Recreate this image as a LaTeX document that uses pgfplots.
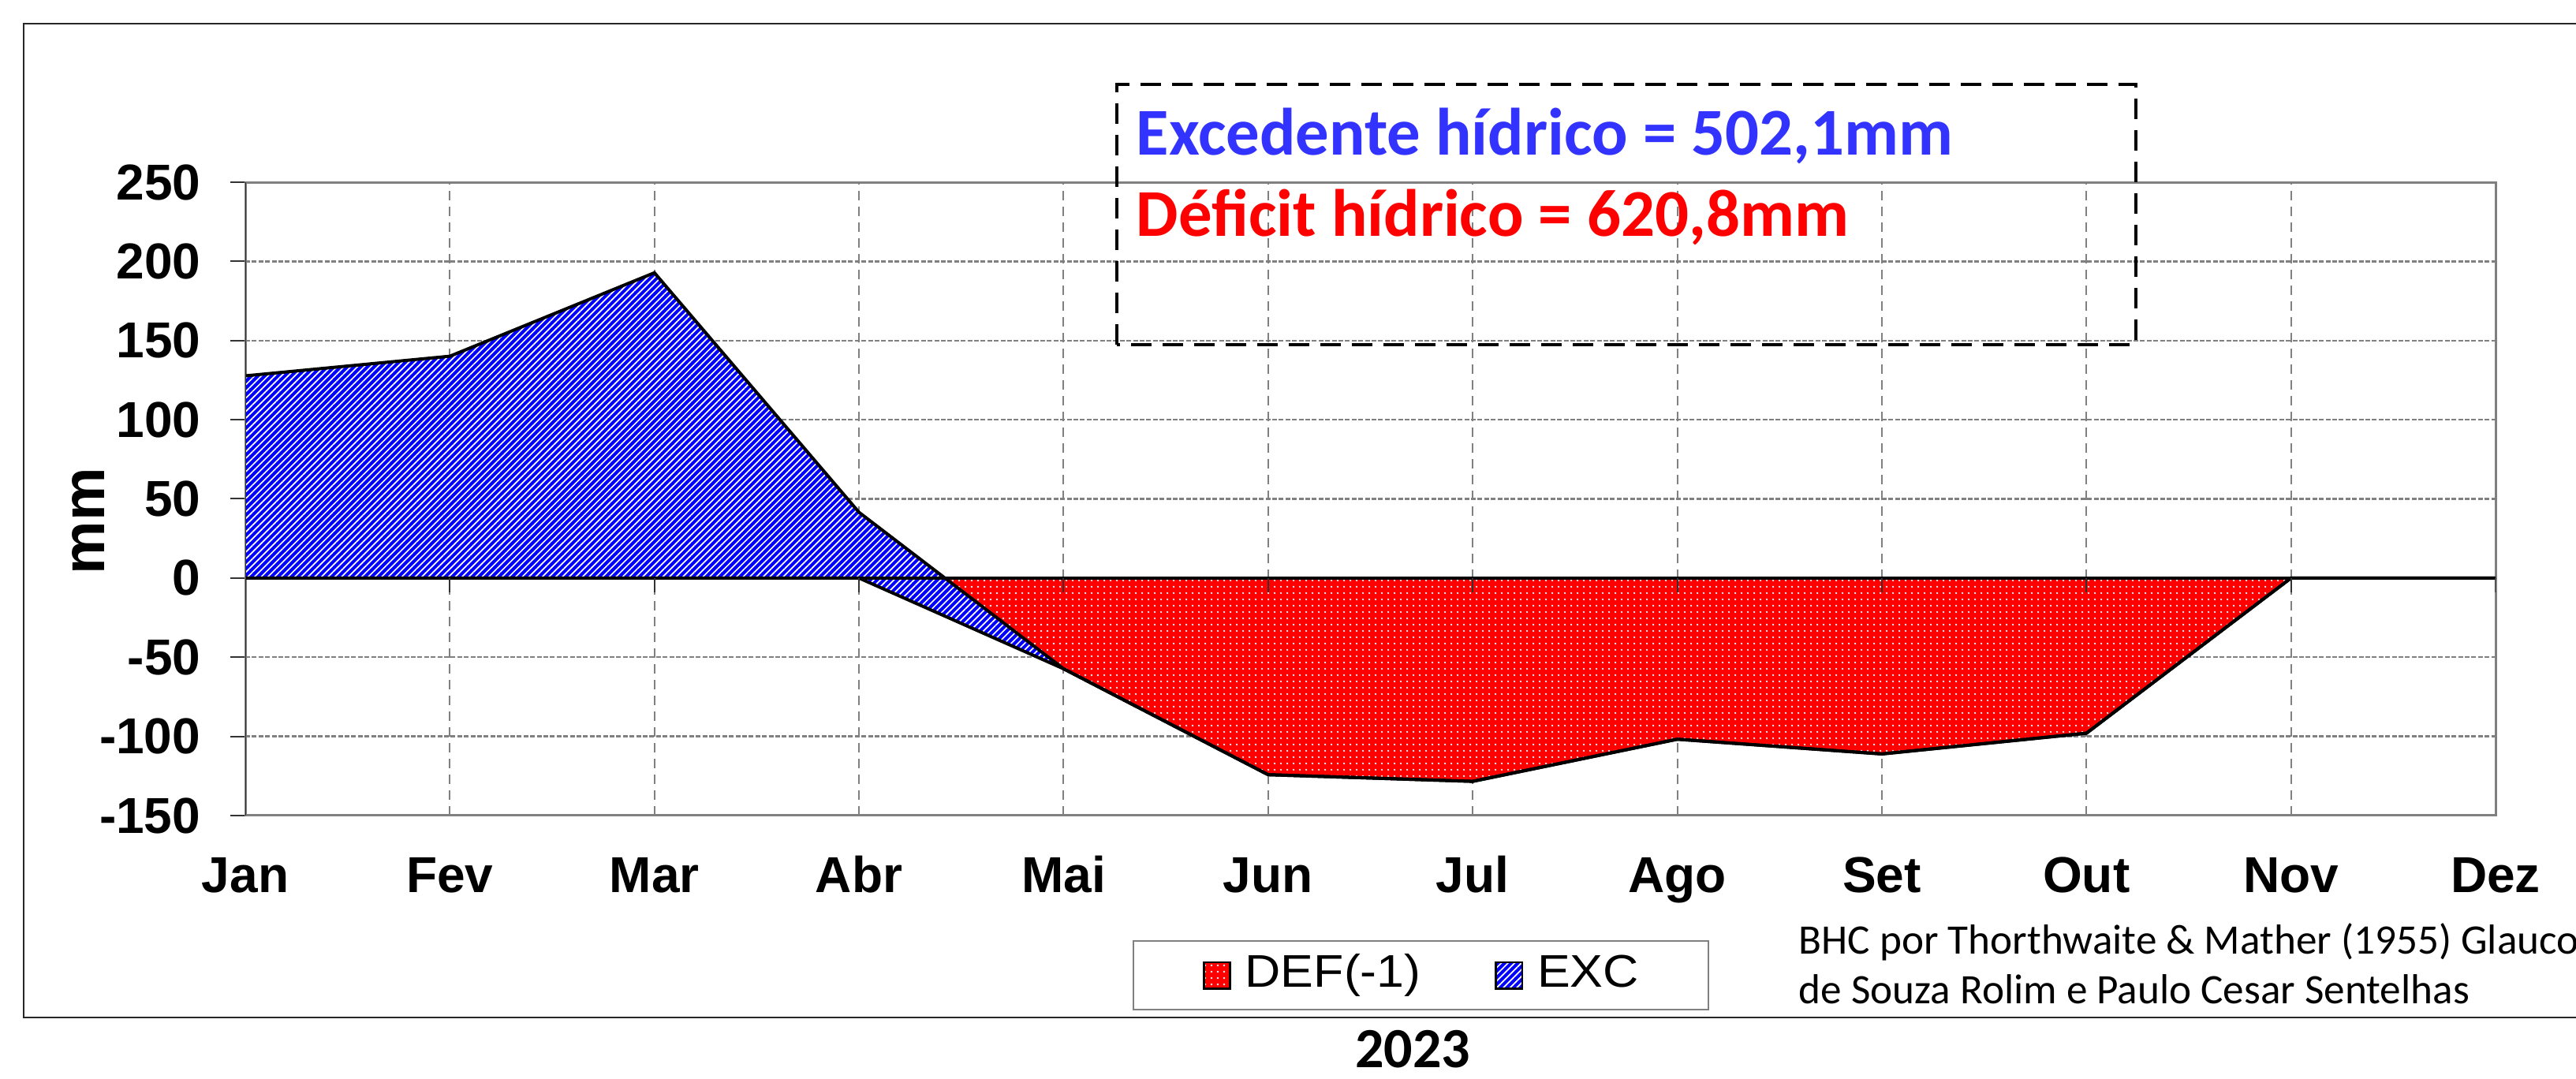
\documentclass[border=0pt]{standalone}
\usepackage{fontspec}
\setmainfont{Liberation Sans}
\newfontfamily\calibri{Carlito}
\usepackage{pgfplots}
\usepackage{pgfplotstable}
\pgfplotsset{compat=1.18}
\usetikzlibrary{patterns.meta}
\definecolor{excblue}{RGB}{0,0,255}
\definecolor{txtblue}{RGB}{51,51,255}
\definecolor{defred}{RGB}{255,0,0}
\definecolor{gridgray}{RGB}{128,128,128}

% monthly water balance: DEF(-1) and EXC (mm)
\pgfplotstableread{
x def exc
0 0 127.7
1 0 140.1
2 0 192.8
3 0 41.5
4 -57.3 0
5 -124.2 0
6 -128.4 0
7 -101.8 0
8 -111.1 0
9 -98.0 0
10 0 0
11 0 0
}\bhc
% EXC stacked on DEF: upper edge (def+exc) Jan..Mai, lower edge (def) back Abr..Jan
\pgfplotstableread{
x y
0 127.7
1 140.1
2 192.8
3 41.5
4 -57.3
3 0
2 0
1 0
0 0
}\excpoly

\begin{document}
\begin{tikzpicture}
\fill[white] (0,0) rectangle (816.5pt,342pt);
\draw[black!85, line width=0.5pt] (7.5pt,19.5pt) rectangle (830pt,334.5pt);

\begin{axis}[
  at={(77.75pt,83.5pt)}, anchor=south west,
  scale only axis, width=713.25pt, height=200.75pt,
  xmin=0, xmax=11, ymin=-150, ymax=250,
  xtick={0,...,11},
  xticklabels={Jan,Fev,Mar,Abr,Mai,Jun,Jul,Ago,Set,Out,Nov,Dez},
  ytick={-150,-100,...,250},
  yticklabels={-150,-100,-50,0,50,100,150,200,250},
  grid=major,
  x grid style={gridgray, line width=0.5pt, dash pattern=on 3pt off 2pt},
  y grid style={gridgray, line width=0.6pt, dash pattern=on 1.5pt off 0.6pt},
  axis line style={draw=gridgray, line width=0.75pt},
  tick align=outside,
  major tick length=4.75pt,
  xtick style={draw=none},
  ytick pos=left,
  ytick style={black!80, line width=0.5pt},
  xticklabel style={font=\bfseries\fontsize{16}{16}\selectfont, inner sep=0pt, text height=11.5pt, anchor=north, yshift=-8pt},
  yticklabel style={font=\bfseries\fontsize{16}{16}\selectfont, inner sep=0pt, anchor=east, xshift=-9.25pt},
  legend style={at={(0.3943,-0.1968)}, anchor=north west, draw=gridgray, line width=0.6pt,
    inner xsep=22pt, inner ysep=3.6pt, font=\fontsize{14.5}{14.5}\selectfont,
    nodes={inner sep=0pt, text height=11pt, text depth=3.5pt},
    /tikz/every odd column/.append style={column sep=4.5pt},
    /tikz/every even column/.append style={column sep=23.5pt}},
  legend columns=2,
]
\addplot[draw=none, fill=defred, postaction={pattern={Dots[distance=2pt, radius=0.32pt]}, pattern color=white}, forget plot] table[x=x, y=def] {\bhc} -- cycle;
\addplot[draw=none, fill=excblue, postaction={pattern={Lines[angle=45, distance=1.5pt, line width=0.42pt]}, pattern color=white}, forget plot] table[x=x, y=y] {\excpoly} -- cycle;
\addplot[black, line width=1pt, forget plot] table[x=x, y=def] {\bhc};
\addplot[black, line width=1pt, forget plot] table[x=x, y expr=\thisrow{def}+\thisrow{exc}] {\bhc};
\draw[black, line width=1pt] (axis cs:0,0) -- (axis cs:11,0);
\pgfplotsinvokeforeach{1,...,11}{\draw[black!80, line width=0.5pt] (axis cs:#1,0) -- (axis cs:#1,-9);}
\draw[black!80, line width=0.6pt] (axis cs:0,-150) -- (axis cs:0,250);

\addlegendimage{legend image code/.code={
  \draw[black, line width=0.5pt, fill=defred] (0pt,-4.2pt) rectangle (8.3pt,4.2pt);
  \fill[pattern={Dots[distance=2pt, radius=0.32pt]}, pattern color=white] (0pt,-4.2pt) rectangle (8.3pt,4.2pt);}}
\addlegendentry{\scalebox{1.08}[1]{DEF(-1)}}
\addlegendimage{legend image code/.code={
  \draw[black, line width=0.5pt, fill=excblue] (0pt,-4.2pt) rectangle (8.3pt,4.2pt);
  \fill[pattern={Lines[angle=45, distance=1.5pt, line width=0.42pt]}, pattern color=white] (0pt,-4.2pt) rectangle (8.3pt,4.2pt);}}
\addlegendentry{\scalebox{1.08}[1]{EXC}\hspace{-2.75pt}}
\end{axis}

\node[rotate=90, font=\bfseries\fontsize{19}{19}\selectfont, inner sep=0pt] at (28pt,176.75pt) {mm};

\draw[black, line width=1pt, dash pattern=on 6.5pt off 3.5pt] (354pt,232.75pt) rectangle (677pt,315.25pt);
\node[anchor=base west, inner sep=0pt, font=\calibri\bfseries\fontsize{21.2}{21.2}\selectfont, text=txtblue] at (360pt,292.75pt) {Excedente hídrico = 502,1mm};
\node[anchor=base west, inner sep=0pt, font=\calibri\bfseries\fontsize{21.2}{21.2}\selectfont, text=defred] at (360pt,267pt) {Déficit hídrico = 620,8mm};

\node[anchor=base west, inner sep=0pt, font=\calibri\fontsize{13.3}{15.75}\selectfont] at (570pt,39.5pt) {BHC por Thorthwaite \& Mather (1955) Glauco};
\node[anchor=base west, inner sep=0pt, font=\calibri\fontsize{13.3}{15.75}\selectfont] at (570pt,23.75pt) {de Souza Rolim e Paulo Cesar Sentelhas};

\node[anchor=base, inner sep=0pt, font=\calibri\bfseries\fontsize{18}{18}\selectfont] at (447.75pt,3.5pt) {2023};

\pgfresetboundingbox
\path[use as bounding box] (0,0) rectangle (816.5pt,342pt);
\end{tikzpicture}
\end{document}
